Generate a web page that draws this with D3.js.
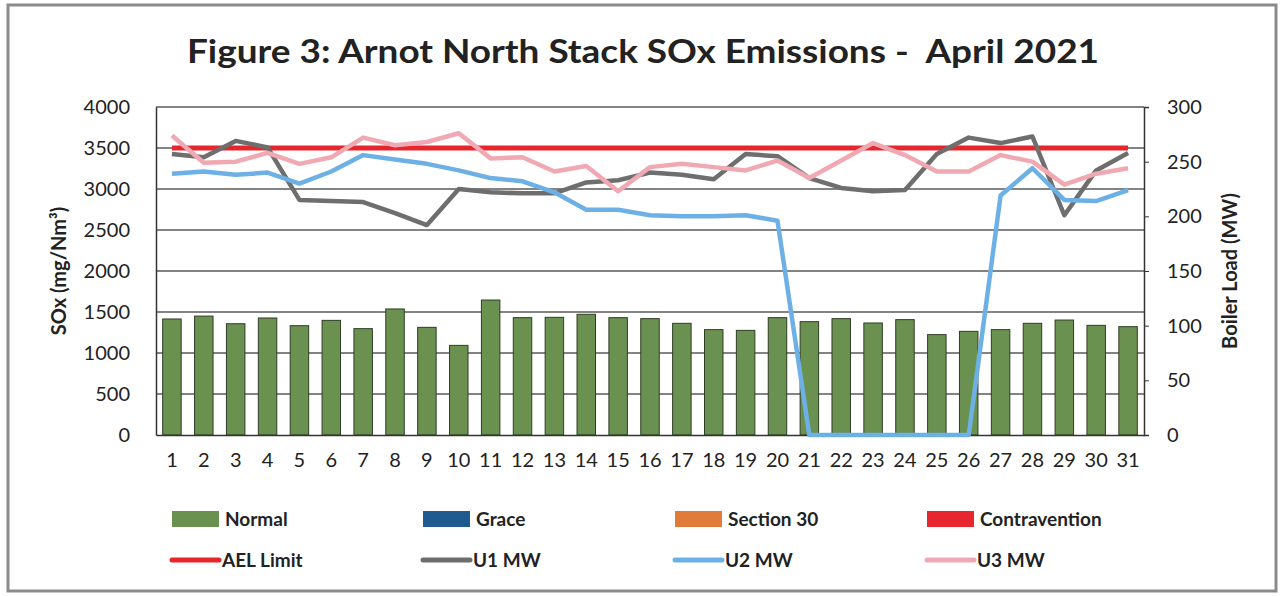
<!DOCTYPE html>
<html>
<head>
<meta charset="utf-8">
<script src="https://cdn.jsdelivr.net/npm/d3@7"></script>
<style>
  body { margin: 0; background: #fff; }
  text { font-family: Lato, "Open Sans", sans-serif; fill: #222; }
</style>
</head>
<body>
<div id="chart"></div>
<script>
// days of April 2021
const days = d3.range(1, 32)

// daily SOx (mg/Nm3) - all "Normal"
const sox = [1415, 1450, 1357, 1427, 1333, 1398, 1297, 1537, 1313, 1093,
  1646, 1431, 1435, 1472, 1431, 1419, 1362, 1285, 1276, 1431,
  1382, 1419, 1366, 1407, 1224, 1264, 1285, 1362, 1402, 1337, 1321]

const aelLimit = 3500

// boiler loads (MW)
const u1 = [257, 254, 269, 263, 215, 214, 213, 203, 192, 225,
  222, 221, 221, 231, 233, 240, 238, 234, 257, 255,
  235, 226, 223, 224, 257, 272, 267, 273, 201, 242, 258]
const u2 = [239, 241, 238, 240, 230, 241, 256, 252, 248, 242,
  235, 232, 222, 206, 206, 201, 200, 200, 201, 196,
  0, 0, 0, 0, 0, 0, 219, 244, 215, 214, 224]
const u3 = [274, 249, 250, 258, 248, 254, 272, 265, 268, 276,
  253, 254, 241, 246, 223, 245, 248, 245, 242, 251,
  235, 251, 267, 256, 241, 241, 256, 250, 229, 239, 244]

const leftTicks = d3.range(0, 4001, 500)
const rightTicks = d3.range(0, 301, 50)

const MARGIN = { TOP: 107, LEFT: 156 }
const WIDTH = 988
const HEIGHT = 328

const svg = d3.select("#chart").append("svg")
  .attr("width", 1284)
  .attr("height", 596)

// outer frame
svg.append("rect")
  .attr("x", 8).attr("y", 5)
  .attr("width", 1268).attr("height", 586)
  .attr("fill", "none")
  .attr("stroke", "#8a8a8a")
  .attr("stroke-width", 3)

svg.append("text")
  .attr("x", 643).attr("y", 63)
  .attr("text-anchor", "middle")
  .attr("font-size", 32)
  .attr("font-weight", "bold")
  .attr("textLength", 912)
  .attr("lengthAdjust", "spacingAndGlyphs")
  .style("white-space", "pre")
  .text("Figure 3: Arnot North Stack SOx Emissions -  April 2021")

const g = svg.append("g")
  .attr("transform", "translate(" + MARGIN.LEFT + "," + MARGIN.TOP + ")")

const x = d3.scaleBand()
  .domain(days)
  .range([0, WIDTH])
  .paddingInner(0.42)
  .paddingOuter(0.21)

const y = d3.scaleLinear().domain([0, 4000]).range([HEIGHT, 0])
const y2 = d3.scaleLinear().domain([0, 300]).range([HEIGHT, 0])

// gridlines
g.selectAll(".grid")
  .data(leftTicks.slice(1))
  .enter().append("line")
  .attr("x1", 0).attr("x2", WIDTH)
  .attr("y1", d => y(d)).attr("y2", d => y(d))
  .attr("stroke", "#5a5a5a")
  .attr("stroke-width", 1.5)

// bars
g.selectAll(".bar")
  .data(sox)
  .enter().append("rect")
  .attr("x", (d, i) => x(days[i]))
  .attr("y", d => y(d))
  .attr("width", x.bandwidth())
  .attr("height", d => HEIGHT - y(d))
  .attr("fill", "#6b9150")
  .attr("stroke", "#2f3d25")
  .attr("stroke-width", 1)

// axes
const yAxisCall = d3.axisLeft(y).tickValues(leftTicks).tickFormat(d3.format("d")).tickSize(0).tickPadding(26)
const yAx = g.append("g").call(yAxisCall)
yAx.select(".domain").attr("stroke", "#333").attr("stroke-width", 1.5)
yAx.selectAll("text").attr("font-size", 20).attr("fill", "#222").attr("font-family", "Lato, sans-serif")

const y2AxisCall = d3.axisRight(y2).tickValues(rightTicks).tickFormat(d3.format("d")).tickSize(5).tickPadding(18)
const y2Ax = g.append("g").attr("transform", "translate(" + WIDTH + ",0)").call(y2AxisCall)
y2Ax.select(".domain").attr("stroke", "#333").attr("stroke-width", 1.5)
y2Ax.selectAll("line").attr("stroke", "#333")
y2Ax.selectAll("text").attr("font-size", 20).attr("fill", "#222").attr("font-family", "Lato, sans-serif")

const xAxisCall = d3.axisBottom(x).tickSize(0).tickPadding(18)
const xAx = g.append("g").attr("transform", "translate(0," + HEIGHT + ")").call(xAxisCall)
xAx.select(".domain").attr("stroke", "#333").attr("stroke-width", 1.5)
xAx.selectAll("text").attr("font-size", 20).attr("fill", "#222").attr("font-family", "Lato, sans-serif")

// axis titles
svg.append("text")
  .attr("transform", "translate(66," + (MARGIN.TOP + HEIGHT / 2) + ") rotate(-90)")
  .attr("text-anchor", "middle")
  .attr("font-size", 20)
  .attr("font-weight", "bold")
  .text("SOx (mg/Nm³)")

svg.append("text")
  .attr("transform", "translate(1237," + (MARGIN.TOP + HEIGHT / 2) + ") rotate(-90)")
  .attr("text-anchor", "middle")
  .attr("font-size", 20)
  .attr("font-weight", "bold")
  .text("Boiler Load (MW)")

// lines
const cx = d => x(d) + x.bandwidth() / 2

g.append("line")
  .attr("x1", cx(days[0])).attr("x2", cx(days[days.length - 1]))
  .attr("y1", y(aelLimit)).attr("y2", y(aelLimit))
  .attr("stroke", "#e5262c")
  .attr("stroke-width", 5)

const series = [
  { name: "U1 MW", values: u1, color: "#6e6e6e" },
  { name: "U2 MW", values: u2, color: "#6cb0e6" },
  { name: "U3 MW", values: u3, color: "#f0a9b3" }
]

const line = d3.line()
  .x((d, i) => cx(days[i]))
  .y(d => y2(d))

series.forEach(s => {
  g.append("path")
    .datum(s.values)
    .attr("d", line)
    .attr("fill", "none")
    .attr("stroke", s.color)
    .attr("stroke-width", 4.5)
    .attr("stroke-linejoin", "round")
})

// legend
const legendCols = [172, 423, 675, 927]
const boxItems = [
  { name: "Normal", color: "#6b9150" },
  { name: "Grace", color: "#1f5b8e" },
  { name: "Section 30", color: "#e07b3a" },
  { name: "Contravention", color: "#e8262f" }
]
const lineItems = [
  { name: "AEL Limit", color: "#e5262c" },
  { name: "U1 MW", color: "#6e6e6e" },
  { name: "U2 MW", color: "#6cb0e6" },
  { name: "U3 MW", color: "#f0a9b3" }
]

boxItems.forEach((d, i) => {
  svg.append("rect")
    .attr("x", legendCols[i]).attr("y", 511)
    .attr("width", 47).attr("height", 16)
    .attr("fill", d.color)
  svg.append("text")
    .attr("x", legendCols[i] + 53).attr("y", 526)
    .attr("font-size", 19)
    .attr("font-weight", "bold")
    .text(d.name)
})

lineItems.forEach((d, i) => {
  svg.append("line")
    .attr("x1", legendCols[i]).attr("x2", legendCols[i] + 47)
    .attr("y1", 560).attr("y2", 560)
    .attr("stroke", d.color)
    .attr("stroke-width", 5)
    .attr("stroke-linecap", "round")
  svg.append("text")
    .attr("x", legendCols[i] + 50).attr("y", 567)
    .attr("font-size", 19)
    .attr("font-weight", "bold")
    .text(d.name)
})
</script>
</body>
</html>
